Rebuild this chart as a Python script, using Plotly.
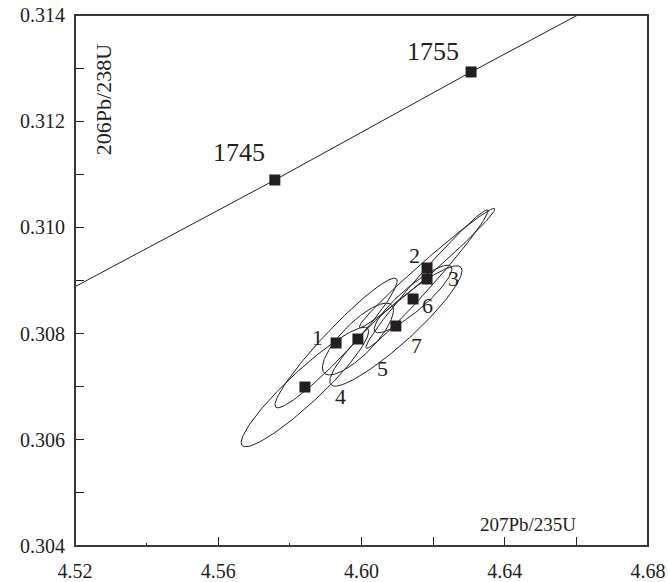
import numpy as np
import plotly.graph_objects as go

# Concordia curve (207Pb/235U vs 206Pb/238U) with age ticks in Ma
concordia_x = [4.52, 4.5758, 4.6306, 4.6604]
concordia_y = [0.308883, 0.310893, 0.312927, 0.314]
age_labels = ["1745", "1755"]
age_x = [4.5758, 4.6306]
age_y = [0.310893, 0.312927]

# Analysed spots: ratios, 2-sigma errors and error correlation
spot_labels = ["1", "2", "3", "4", "5", "6", "7"]
spot_x = [4.5929, 4.6183, 4.6183, 4.5842, 4.5990, 4.6144, 4.6096]
spot_y = [0.307823, 0.309236, 0.309028, 0.306994, 0.307898, 0.308652, 0.308143]
err_x = [0.01707, 0.01893, 0.01707, 0.01779, 0.00992, 0.01085, 0.01846]
err_y = [0.001221, 0.001123, 0.001303, 0.001125, 0.000676, 0.000636, 0.001133]
rho = [0.955, 0.988, 0.985, 0.930, 0.800, 0.889, 0.920]

# label offsets in pixels (dx, dy) relative to each spot
spot_label_dx = [-19, -13, 26, 36, 25, 14, 21]
spot_label_dy = [-6, -12, -1, 9, 29, 7, 19]

INK = "#231f20"
FONT = "Liberation Serif, Times New Roman, serif"

fig = go.Figure()

# concordia line
fig.add_trace(go.Scatter(x=concordia_x, y=concordia_y, mode="lines",
                         line=dict(color=INK, width=1), hoverinfo="skip",
                         showlegend=False))

# error ellipses
t = np.linspace(0, 2 * np.pi, 181)
for cx, cy, ex, ey, r in zip(spot_x, spot_y, err_x, err_y, rho):
    ex_pts = cx + ex * np.cos(t)
    ey_pts = cy + ey * (r * np.cos(t) + np.sqrt(1 - r * r) * np.sin(t))
    fig.add_trace(go.Scatter(x=ex_pts, y=ey_pts, mode="lines",
                             line=dict(color=INK, width=1), hoverinfo="skip",
                             showlegend=False))

# spot centres
fig.add_trace(go.Scatter(x=spot_x, y=spot_y, mode="markers",
                         marker=dict(symbol="square", size=11, color=INK),
                         showlegend=False))

# age markers
fig.add_trace(go.Scatter(x=age_x, y=age_y, mode="markers",
                         marker=dict(symbol="square", size=11, color=INK),
                         showlegend=False))

annotations = []
for lab, x, y, dx, dy in zip(age_labels, age_x, age_y, [-36, -38], [-27, -20]):
    annotations.append(dict(x=x, y=y, xref="x", yref="y", text=lab,
                            showarrow=False, xshift=dx, yshift=-dy,
                            font=dict(family=FONT, size=26, color=INK)))
for lab, x, y, dx, dy in zip(spot_labels, spot_x, spot_y, spot_label_dx, spot_label_dy):
    annotations.append(dict(x=x, y=y, xref="x", yref="y", text=lab,
                            showarrow=False, xshift=dx, yshift=-dy,
                            font=dict(family=FONT, size=22, color=INK)))

# axis titles placed inside the frame
annotations.append(dict(x=0.051, y=0.84, xref="paper", yref="paper",
                        xanchor="center", yanchor="middle",
                        text="206Pb/238U", textangle=-90, showarrow=False,
                        font=dict(family=FONT, size=22, color=INK)))
annotations.append(dict(x=0.79, y=0.041, xref="paper", yref="paper",
                        xanchor="center", yanchor="middle",
                        text="207Pb/235U", showarrow=False,
                        font=dict(family=FONT, size=19, color=INK)))

fig.update_layout(
    template="none",
    width=668, height=582,
    margin=dict(l=75, r=20, t=15, b=36, autoexpand=False),
    paper_bgcolor="white", plot_bgcolor="white",
    annotations=annotations,
    font=dict(family=FONT, size=20, color=INK),
    # plot frame
    shapes=[dict(type="rect", xref="paper", yref="paper", x0=0, y0=0, x1=1, y1=1,
                 line=dict(color="#3a3637", width=2), layer="above")],
)

fig.update_xaxes(
    range=[4.52, 4.68], showgrid=False, zeroline=False, automargin=False,
    showline=True, linecolor=INK, linewidth=1,
    ticks="inside", ticklen=9, tickcolor=INK, tickwidth=1,
    tickvals=[4.52, 4.56, 4.60, 4.62, 4.64, 4.66, 4.68],
    ticktext=["4.52", "4.56", "4.60", "", "4.64", "", "4.68"],
    ticklabelstandoff=7,
    minor=dict(tickvals=[4.54, 4.58], ticks="inside", ticklen=3,
               tickcolor=INK, tickwidth=1),
)
fig.update_yaxes(
    range=[0.304, 0.314], showgrid=False, zeroline=False, automargin=False,
    showline=True, linecolor=INK, linewidth=1,
    ticks="inside", ticklen=9, tickcolor=INK, tickwidth=1,
    tickvals=[0.304, 0.306, 0.308, 0.310, 0.312, 0.314],
    ticktext=["0.304", "0.306", "0.308", "0.310", "0.312", "0.314"],
    ticklabelstandoff=5,
    minor=dict(tickvals=[0.305, 0.307, 0.309, 0.311, 0.313], ticks="inside",
               ticklen=9, tickcolor=INK, tickwidth=1),
)

fig.write_html("out.html")
